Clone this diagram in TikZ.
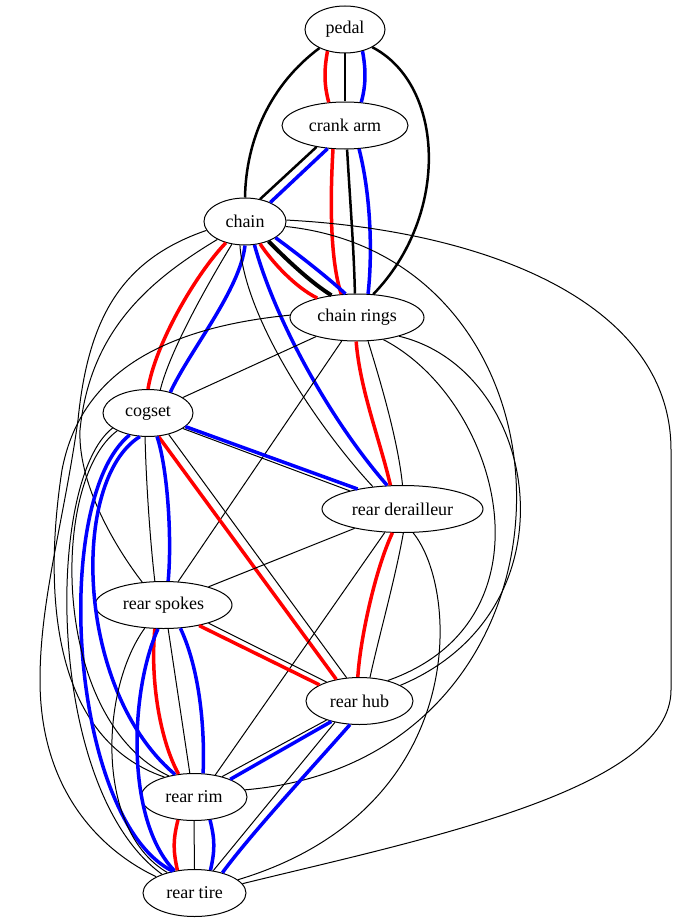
\documentclass[tikz,border=0pt]{standalone}
\usepackage{fontspec}
\setmainfont{Liberation Serif}
\usetikzlibrary{shapes.geometric}
\begin{document}
\begin{tikzpicture}[x=1pt, y=-1pt,
		part/.style={ellipse, draw, line width=1pt, fill=white, minimum height=47pt, inner sep=0pt, font=\fontsize{18}{20}\selectfont},
		wire/.style={line width=1pt},
		wirek/.style={line width=2.5pt},
		wirer/.style={line width=3.5pt, red},
		wireb/.style={line width=3.5pt, blue}]
		\useasboundingbox (0,0) rectangle (677,923);
		\node (pedal) at (345,29.5) [part, minimum width=80pt] {pedal};
		\node (crank) at (345,125.5) [part, minimum width=126pt] {crank arm};
		\node (chain) at (245,221.5) [part, minimum width=82pt] {chain};
		\node (rings) at (357,317.5) [part, minimum width=134pt] {chain rings};
		\node (cogset) at (148,413) [part, minimum width=90pt] {cogset};
		\node (derail) at (402.5,509) [part, minimum width=161pt] {rear derailleur};
		\node (spokes) at (163.5,605) [part, minimum width=137pt] {rear spokes};
		\node (hub) at (359.5,701) [part, minimum width=107pt] {rear hub};
		\node (rim) at (194,797) [part, minimum width=106pt] {rear rim};
		\node (tire) at (194.5,893) [part, minimum width=103pt] {rear tire};
		% pedal and crank arm
		\draw[wirer] (pedal.-129) .. controls (324,70) and (324,85) .. (crank.125);
		\draw[wirek] (pedal.-90) -- (crank.90);
		\draw[wireb] (pedal.-51) .. controls (366,70) and (366,85) .. (crank.55);
		\draw[wirek] (pedal.-144) .. controls (270,85) and (246,140) .. (chain.90);
		\draw[wirek] (pedal.-33) .. controls (445,85) and (450,215) .. (rings.55);
		\draw[wirek] (crank.-143) -- (chain.56);
		\draw[wireb] (crank.-127) -- (chain.37);
		\draw[wirer] (crank.-117) .. controls (330,200) and (330,260) .. (rings.124);
		\draw[wirek] (crank.-85) .. controls (350,200) and (354,250) .. (rings.95);
		\draw[wireb] (crank.-59) .. controls (372,200) and (372,260) .. (rings.65);
		% chain
		\draw[wirer] (chain.-56) .. controls (272,262) and (295,287) .. (rings.154);
		\draw[wirek, line width=4pt] (chain.-40) .. controls (285,258) and (310,282) .. (rings.139);
		\draw[wireb] (chain.-28) .. controls (295,252) and (325,275) .. (rings.116);
		\draw[wirer] (chain.-132) .. controls (195,275) and (155,345) .. (cogset.90);
		\draw[wire] (chain.-120) .. controls (210,280) and (170,350) .. (cogset.62);
		\draw[wireb] (chain.-90) .. controls (240,290) and (190,350) .. (cogset.43);
		\draw[wireb] (chain.-68) .. controls (275,320) and (330,420) .. (derail.123);
		\draw[wire] (chain.-102) .. controls (245,320) and (320,430) .. (derail.143);
		\draw[wire] (chain.-147) .. controls (150,280) and (90,330) .. (80,430) .. controls (78,480) and (110,540) .. (spokes.133);
		\draw[wire] (chain.-167) .. controls (120,260) and (88,320) .. (78,420) .. controls (64,520) and (40,600) .. (40,680) .. controls (40,790) and (100,850) .. (tire.157);
		\draw[wire] (chain.-7) .. controls (600,260) and (600,760) .. (rim.8);
		\draw[wire] (chain.2) .. controls (480,230) and (671,300) .. (671,450) -- (671,690) .. controls (671,790) and (420,840) .. (tire.11);
		% chain rings
		\draw[wire] (rings.-155) -- (cogset.24);
		\draw[wire] (rings.-123) -- (spokes.58);
		\draw[wirer] (rings.-92) .. controls (360,390) and (380,440) .. (derail.117);
		\draw[wire] (rings.-65) .. controls (380,380) and (398,440) .. (derail.90);
		\draw[wire] (rings.-40) .. controls (500,400) and (560,620) .. (hub.36);
		\draw[wire] (rings.-24) .. controls (540,370) and (580,610) .. (hub.21);
		\draw[wire] (rings.178) .. controls (160,328) and (80,375) .. (62,470) .. controls (42,600) and (55,740) .. (rim.146);
		% cogset
		\draw[wireb] (cogset.-20) -- (derail.156);
		\draw[wire] (cogset.-24) -- (derail.161);
		\draw[wirer] (cogset.-66) -- (hub.137);
		\draw[wire] (cogset.-46) -- (hub.119);
		\draw[wire] (cogset.-97) .. controls (146,480) and (150,540) .. (spokes.110);
		\draw[wireb] (cogset.-69) .. controls (168,470) and (172,540) .. (spokes.79);
		\draw[wireb] (cogset.-109) .. controls (70,480) and (75,690) .. (rim.130);
		\draw[wireb] (cogset.-130) .. controls (50,500) and (70,820) .. (tire.135);
		\draw[wire] (cogset.-157) .. controls (45,480) and (45,790) .. (tire.150);
		\draw[wire] (cogset.-150) .. controls (50,480) and (50,720) .. (rim.140);
		% rear derailleur
		\draw[wire] (spokes.22) -- (derail.-158);
		\draw[wirer] (derail.-113) .. controls (375,570) and (360,640) .. (hub.94);
		\draw[wire] (derail.-88) .. controls (395,580) and (378,640) .. (hub.66);
		\draw[wire] (derail.-127) -- (rim.46);
		\draw[wire] (derail.-66) .. controls (460,590) and (470,810) .. (tire.17);
		% rear spokes
		\draw[wirer] (spokes.-30) -- (hub.158);
		\draw[wire] (spokes.-22) -- (hub.150);
		\draw[wirer] (spokes.-110) .. controls (150,680) and (160,740) .. (rim.124);
		\draw[wire] (spokes.-79) -- (rim.100);
		\draw[wireb] (spokes.-54) .. controls (200,670) and (205,730) .. (rim.69);
		\draw[wireb] (spokes.-103) .. controls (130,690) and (125,820) .. (tire.132);
		\draw[wire] (spokes.-129) .. controls (100,690) and (95,830) .. (tire.143);
		% rear hub, rim and tire
		\draw[wireb] (hub.-144) -- (rim.26);
		\draw[wire] (hub.-150) -- (rim.36);
		\draw[wire] (hub.-139) -- (tire.50);
		\draw[wireb] (hub.-112) .. controls (310,770) and (250,835) .. (tire.36);
		\draw[wirer] (rim.-125) .. controls (173,840) and (173,850) .. (tire.127);
		\draw[wire] (rim.-90) -- (tire.90);
		\draw[wireb] (rim.-55) .. controls (215,840) and (215,850) .. (tire.55);
	\end{tikzpicture}
\end{document}
